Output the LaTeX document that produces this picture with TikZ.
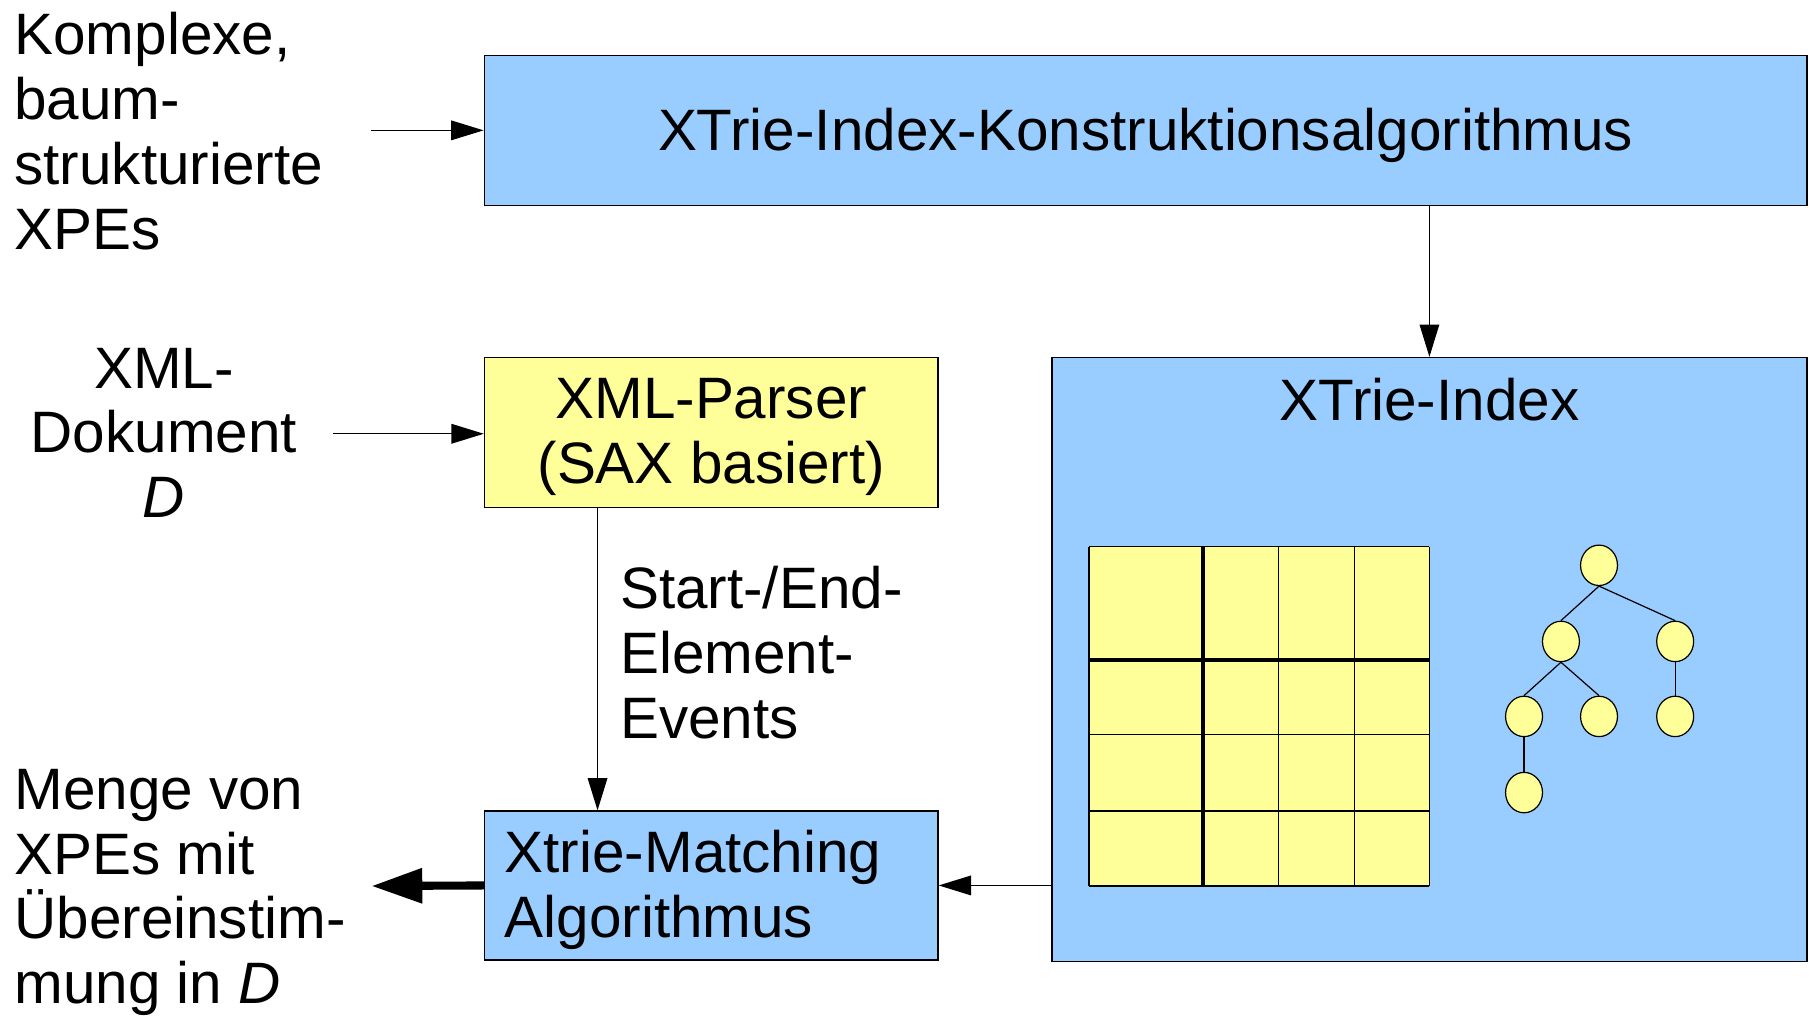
\documentclass[tikz,border=0pt]{standalone}
\usepackage{fontspec}
\setmainfont{Liberation Sans}
\usetikzlibrary{arrows.meta,shapes.geometric}
\definecolor{boxblue}{HTML}{99CCFF}
\definecolor{boxyellow}{HTML}{FFFF99}

\begin{document}
\begin{tikzpicture}[x=0.01cm,y=-0.01cm,line width=0.3pt,->,>={Triangle[length=0.28cm,width=0.17cm]},
  font=\fontsize{14.4}{16}\selectfont]
	\tikzstyle{bluebox}   = [rectangle,draw,fill=boxblue]
	\tikzstyle{yellowbox} = [rectangle,draw,fill=boxyellow]
	\tikzstyle{knot}      = [ellipse,draw,fill=boxyellow,inner sep=0pt,minimum width=0.32cm,minimum height=0.35cm]
	\tikzstyle{caption}   = [inner sep=0pt]

	\useasboundingbox (0,0) rectangle (1568,880);

	\node[bluebox,minimum width=11.46cm,minimum height=1.30cm] (kon) at (993,113) {};
	\node[yellowbox,minimum width=3.93cm,minimum height=1.30cm] (parser) at (616.5,375) {};
	\node[bluebox,minimum width=3.93cm,minimum height=1.29cm] (match) at (616.5,767.5) {};
	\node[bluebox,minimum width=6.54cm,minimum height=5.23cm] (index) at (1239,571.5) {};

	\node[caption] (kontext) at (993,117) {XTrie-Index-Konstruktionsalgorithmus};
	\node[caption,align=center] (parsertext) at (616.5,379) {XML-Parser\\(SAX basiert)};
	\node[caption,anchor=west,align=left] (matchtext) at (437,771) {Xtrie-Matching\\Algorithmus};
	\node[caption] (indextext) at (1239,346) {XTrie-Index};

	\node[caption,anchor=north west,align=left] (xpes) at (12,10) {Komplexe,\\baum-\\strukturierte\\XPEs};
	\node[caption,anchor=north,align=center] (doc) at (142,301) {XML-\\Dokument\\\textit{D}};
	\node[caption,anchor=north west,align=left] (result) at (12,666) {Menge von\\XPEs mit\\Übereinstim-\\mung in \textit{D}};
	\node[caption,anchor=north west,align=left] (events) at (537,490) {Start-/End-\\Element-\\Events};

	\coordinate (xpesend) at (322,113);
	\coordinate (docend) at (289,376);
	\coordinate (resultend) at (322,768);

	\path (xpesend) edge (kon.west);
	\path (docend) edge (docend -| parser.west);
	\path (kon.south -| index.north) edge (index.north);
	\path ([xshift=-0.985cm]parser.south) edge ([xshift=-0.985cm]match.north);
	\path (index.west |- match.east) edge (match.east);
	\draw[line width=0.07cm,-{Triangle[length=0.44cm,width=0.29cm]}] (match.west) -- (resultend);

	% table
	\begin{scope}[-]
		\fill[boxyellow] (944,474) rectangle (1239,768);
		\foreach \x in {944,1108,1174,1239}
			\draw (\x,474) -- (\x,768);
		\foreach \y in {474,637,703,768}
			\draw (944,\y) -- (1239,\y);
		\draw[line width=0.9pt] (1043,474) -- (1043,768);
		\draw[line width=0.9pt] (944,572) -- (1239,572);
	\end{scope}

	% tree
	\node[knot] (t1) at (1386,490) {};
	\node[knot] (t2) at (1353,556) {};
	\node[knot] (t3) at (1452,556) {};
	\node[knot] (t4) at (1321,621) {};
	\node[knot] (t5) at (1386,621) {};
	\node[knot] (t6) at (1452,621) {};
	\node[knot] (t7) at (1321,687) {};

	\path[-] (t1.south) edge (t2.north);
	\path[-] (t1.south) edge (t3.north);
	\path[-] (t2.south) edge (t4.north);
	\path[-] (t2.south) edge (t5.north);
	\path[-] (t3.south) edge (t6.north);
	\path[-] (t4.south) edge (t7.north);
\end{tikzpicture}
\end{document}
